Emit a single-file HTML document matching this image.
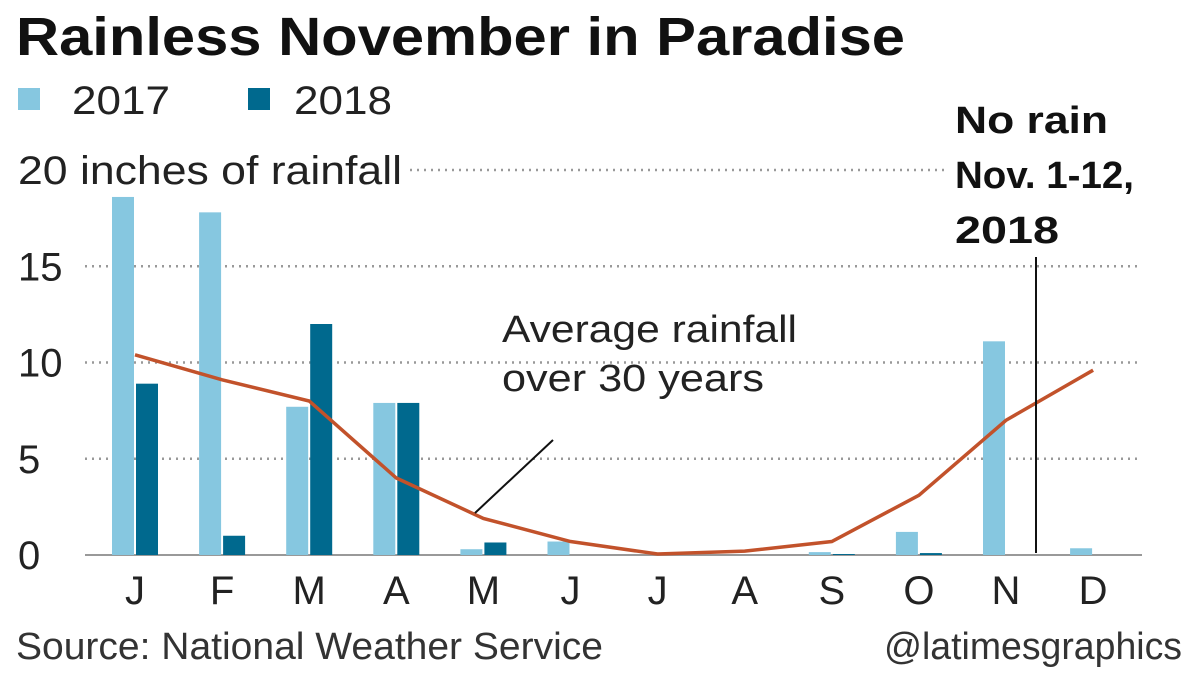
<!DOCTYPE html>
<html><head><meta charset="utf-8"><style>
body{margin:0;background:#fff;width:1200px;height:678px;overflow:hidden;font-family:"Liberation Sans",sans-serif}
svg text{font-family:"Liberation Sans",sans-serif}
</style></head><body>
<svg width="1200" height="678">
<text x="16" y="55" font-size="54" font-weight="bold" fill="#111" textLength="889" lengthAdjust="spacingAndGlyphs">Rainless November in Paradise</text>
<rect x="18" y="88" width="22" height="22" fill="#86c7e0"/>
<text x="72" y="114" font-size="40" fill="#222" textLength="98" lengthAdjust="spacingAndGlyphs">2017</text>
<rect x="248" y="88" width="22" height="22" fill="#00698e"/>
<text x="294" y="114" font-size="40" fill="#222" textLength="98" lengthAdjust="spacingAndGlyphs">2018</text>
<g id="grid"></g>
<g id="bars"></g>
<g id="line"></g>
<g id="xlabels"></g>
<text x="502" y="342" font-size="38" fill="#222" textLength="295" lengthAdjust="spacingAndGlyphs">Average rainfall</text>
<text x="502" y="391" font-size="38" fill="#222" textLength="262" lengthAdjust="spacingAndGlyphs">over 30 years</text>
<line x1="475" y1="513" x2="553" y2="440" stroke="#111" stroke-width="2"/>
<text x="955" y="133" font-size="38" font-weight="bold" fill="#111" textLength="153" lengthAdjust="spacingAndGlyphs">No rain</text>
<text x="955" y="188" font-size="38" font-weight="bold" fill="#111" textLength="179" lengthAdjust="spacingAndGlyphs">Nov. 1-12,</text>
<text x="955" y="243" font-size="38" font-weight="bold" fill="#111" textLength="104" lengthAdjust="spacingAndGlyphs">2018</text>
<line x1="1036" y1="257" x2="1036" y2="553" stroke="#111" stroke-width="2"/>
<text x="16" y="659" font-size="38" fill="#333" textLength="587" lengthAdjust="spacingAndGlyphs">Source: National Weather Service</text>
<text x="884" y="659" font-size="38" fill="#333" textLength="298" lengthAdjust="spacingAndGlyphs">@latimesgraphics</text>
</svg>
<script>
const months=["J","F","M","A","M","J","J","A","S","O","N","D"];
const rain2017=[18.6,17.8,7.7,7.9,0.3,0.7,0,0,0.15,1.2,11.1,0.35];
const rain2018=[8.9,1.0,12.0,7.9,0.65,0,0,0,0.05,0.1,0];
const average=[10.4,9.1,8.0,4.0,1.9,0.7,0.05,0.2,0.7,3.1,7.0,9.6];
const yTicks=[0,5,10,15,20];
const NS="http://www.w3.org/2000/svg";
const y=v=>555-v*19.25;
const x=i=>135+i*87.1;
function mk(tag,attrs,parent){const e=document.createElementNS(NS,tag);for(const k in attrs)e.setAttribute(k,attrs[k]);document.getElementById(parent).appendChild(e);return e;}
yTicks.forEach(t=>{
  if(t===0){const l=mk('line',{x1:85,x2:1142,y1:y(0),y2:y(0),stroke:'#999','stroke-width':2},'grid');
    }
  else{const l=mk('line',{x1:t===20?410:85,x2:t===20?945:1142,y1:y(t),y2:y(t),stroke:'#999','stroke-width':2.5,'stroke-dasharray':'2 5'},'grid');
    }
  const attrs={x:18,y:y(t)+14,'font-size':40,fill:'#222'};
  if(t===20){attrs.textLength=384;attrs.lengthAdjust='spacingAndGlyphs';}
  const tx=mk('text',attrs,'grid');
  tx.textContent=t===20?'20 inches of rainfall':String(t);
  
});
months.forEach((m,i)=>{
  const v1=rain2017[i];
  if(v1!==undefined){const r=mk('rect',{x:x(i)-23,y:y(v1),width:22,height:y(0)-y(v1),fill:'#86c7e0'},'bars');
    }
  const v2=rain2018[i];
  if(v2!==undefined){const r=mk('rect',{x:x(i)+1,y:y(v2),width:22,height:y(0)-y(v2),fill:'#00698e'},'bars');
    }
  const t=mk('text',{x:x(i),y:604,'font-size':40,fill:'#222','text-anchor':'middle'},'xlabels');
  t.textContent=m;
});
const p=mk('polyline',{points:average.map((v,i)=>x(i)+','+y(v)).join(' '),fill:'none',stroke:'#c2522b','stroke-width':3.5},'line');


</script>
</body></html>
